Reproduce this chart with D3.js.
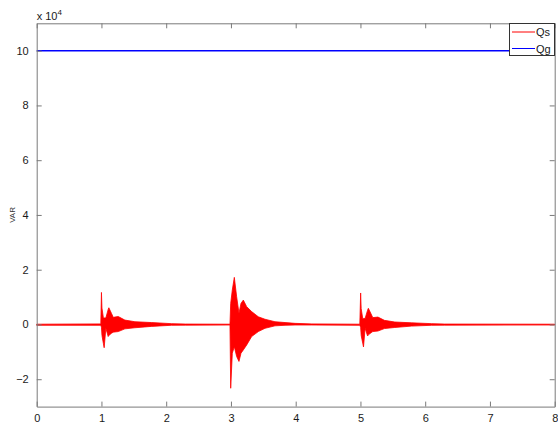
<!DOCTYPE html>
<html>
<head>
<meta charset="utf-8">
<script src="https://cdn.jsdelivr.net/npm/d3@7"></script>
<style>
  html, body { margin: 0; padding: 0; background: #fff; }
  svg { display: block; }
  text { font-family: "Liberation Sans", Arial, sans-serif; }
</style>
</head>
<body>
<script>
// Axis ticks
const xTicks = [0, 1, 2, 3, 4, 5, 6, 7, 8];
const yTicks = [-2, 0, 2, 4, 6, 8, 10];

// Qg: grid reactive power (x 10^4 VAR)
const qgTime = [0, 8];
const qgValue = [10, 10];

// Qs: oscillating reactive power, given as the upper and lower envelope
// of the fast oscillation (x 10^4 VAR)
const qsTime = [
  0, 0.99,
  1.000, 1.008, 1.030, 1.042, 1.068, 1.104, 1.114, 1.156, 1.182, 1.259, 1.362, 1.517, 1.775, 2.08, 2.3,
  2.985, 2.996, 3.021, 3.052, 3.088, 3.124, 3.155, 3.191, 3.243, 3.320, 3.423, 3.526, 3.680, 3.835, 3.990, 4.250,
  4.990, 5.003, 5.011, 5.035, 5.047, 5.072, 5.110, 5.122, 5.165, 5.190, 5.270, 5.370, 5.530, 5.790, 6.100, 6.300,
  8
];
const qsUpper = [
  0.01, 0.02,
  1.17, 0.60, 0.24, 0.24, 0.24, 0.55, 0.61, 0.40, 0.26, 0.29, 0.16, 0.10, 0.07, 0.03, 0.015,
  0.01, 0.77, 1.26, 1.72, 1.01, 0.41, 0.77, 0.89, 0.65, 0.47, 0.28, 0.19, 0.10, 0.07, 0.04, 0.02,
  0.01, 1.15, 0.58, 0.22, 0.22, 0.22, 0.52, 0.59, 0.38, 0.25, 0.27, 0.15, 0.09, 0.06, 0.03, 0.015,
  0.01
];
const qsLower = [
  -0.03, -0.03,
  -0.10, -0.40, -0.70, -0.85, -0.14, -0.44, -0.40, -0.32, -0.28, -0.26, -0.16, -0.12, -0.07, -0.03, -0.025,
  -0.02, -2.33, -1.05, -0.81, -1.17, -1.35, -1.05, -0.93, -0.75, -0.44, -0.26, -0.14, -0.05, -0.03, -0.02, -0.02,
  -0.03, -0.10, -0.40, -0.68, -0.82, -0.14, -0.42, -0.38, -0.30, -0.26, -0.24, -0.15, -0.11, -0.06, -0.03, -0.025,
  -0.02
];

const seriesNames = ["Qs", "Qg"];
const seriesColors = ["#ff0000", "#0000ff"];

const W = 558, H = 424;
const plot = { left: 36.7, right: 554.7, top: 23.3, bottom: 406.6 };

const svg = d3.select("body").append("svg").attr("width", W).attr("height", H);

const x = d3.scaleLinear().domain([0, 8]).range([plot.left, plot.right]);
const y = d3.scaleLinear().domain([-3, 11]).range([plot.bottom, plot.top]);

const axisColor = "#7a7a7a";
const tickLen = 5;

// Qs envelope
const qsData = qsTime.map((t, i) => ({ t, hi: qsUpper[i], lo: qsLower[i] }));
svg.append("path")
  .datum(qsData)
  .attr("d", d3.area().x(d => x(d.t)).y0(d => y(d.lo)).y1(d => y(d.hi)))
  .attr("fill", seriesColors[0])
  .attr("stroke", seriesColors[0])
  .attr("stroke-width", 0.8)
  .attr("stroke-linejoin", "round");

// Qg line
const qgData = qgTime.map((t, i) => ({ t, v: qgValue[i] }));
svg.append("path")
  .datum(qgData)
  .attr("d", d3.line().x(d => x(d.t)).y(d => y(d.v)))
  .attr("fill", "none")
  .attr("stroke", seriesColors[1])
  .attr("stroke-width", 1.6);

// Axes with inward ticks on all four sides
const axisBottom = d3.axisBottom(x).tickValues(xTicks).tickFormat(d3.format("d")).tickSizeInner(-tickLen).tickSizeOuter(0).tickPadding(8);
const axisLeft = d3.axisLeft(y).tickValues(yTicks).tickFormat(d3.format("d")).tickSizeInner(-tickLen).tickSizeOuter(0).tickPadding(8);
const axisTop = d3.axisTop(x).tickValues(xTicks).tickFormat("").tickSizeInner(-tickLen).tickSizeOuter(0);
const axisRight = d3.axisRight(y).tickValues(yTicks).tickFormat("").tickSizeInner(-tickLen).tickSizeOuter(0);

function styleAxis(g) {
  g.select(".domain").attr("stroke", axisColor);
  g.selectAll(".tick line").attr("stroke", axisColor);
  g.selectAll(".tick text").attr("fill", "#1a1a1a").style("font-size", "11px")
    .style("font-family", "'Liberation Sans', Arial, sans-serif");
}

svg.append("g").attr("transform", `translate(0,${plot.bottom})`).call(axisBottom).call(styleAxis);
svg.append("g").attr("transform", `translate(${plot.left},0)`).call(axisLeft).call(styleAxis);
svg.append("g").attr("transform", `translate(0,${plot.top})`).call(axisTop).call(styleAxis);
svg.append("g").attr("transform", `translate(${plot.right},0)`).call(axisRight).call(styleAxis);

// Exponent label
const expo = svg.append("text").attr("x", plot.left).attr("y", 20)
  .attr("fill", "#1a1a1a").style("font-size", "11px");
expo.append("tspan").text("x 10");
expo.append("tspan").attr("dy", -5).style("font-size", "8px").text("4");

// Axis labels
svg.append("text")
  .attr("transform", `translate(15,${y(4)}) rotate(-90)`)
  .attr("text-anchor", "middle")
  .attr("fill", "#333")
  .style("font-size", "8px")
  .text("VAR");
svg.append("text")
  .attr("x", x(4)).attr("y", 429)
  .attr("text-anchor", "middle")
  .attr("fill", "#333")
  .style("font-size", "8px")
  .text("s");

// Legend
const lg = svg.append("g");
const lgBox = { x0: 509.5, x1: 554.5, y0: 23.5, y1: 55.5 };
lg.append("rect")
  .attr("x", lgBox.x0).attr("y", lgBox.y0)
  .attr("width", lgBox.x1 - lgBox.x0).attr("height", lgBox.y1 - lgBox.y0)
  .attr("fill", "#fff").attr("stroke", "#333").attr("stroke-width", 1);
seriesNames.forEach((name, i) => {
  const ly = 32 + i * 16.5;
  lg.append("line")
    .attr("x1", 512).attr("x2", 535).attr("y1", ly).attr("y2", ly)
    .attr("stroke", seriesColors[i]).attr("stroke-width", 1);
  lg.append("text")
    .attr("x", 536).attr("y", ly + 4)
    .attr("fill", "#1a1a1a").style("font-size", "11px")
    .text(name);
});
</script>
</body>
</html>
